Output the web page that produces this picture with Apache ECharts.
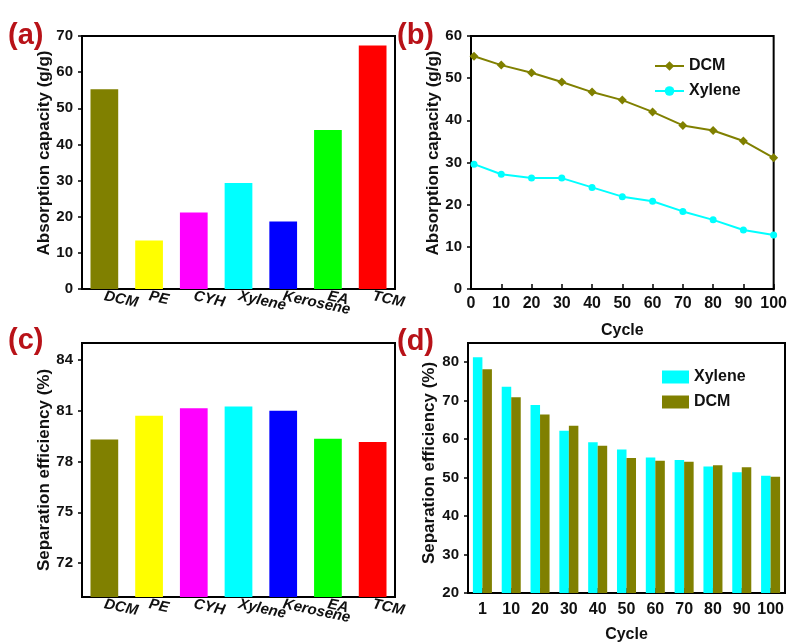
<!DOCTYPE html>
<html>
<head>
<meta charset="utf-8">
<script src="https://cdn.jsdelivr.net/npm/echarts@6/dist/echarts.min.js"></script>
<style>
  html, body { margin: 0; padding: 0; background: #fff; }
  #chart { width: 790px; height: 644px; }
</style>
</head>
<body>
<div id="chart"></div>
<script>
// solvents used in panels (a) and (c)
const solvents = ['DCM', 'PE', 'CYH', 'Xylene', 'Kerosene', 'EA', 'TCM'];
const solventColors = ['#808000', '#FFFF00', '#FF00FF', '#00FFFF', '#0000FF', '#00FF00', '#FF0000'];
const capacity = [55.3, 13.4, 21.2, 29.3, 18.7, 44.0, 67.4];
const efficiency = [79.3, 80.7, 81.15, 81.25, 81.0, 79.35, 79.15];
const efficiencyTicks = [72, 75, 78, 81, 84];

// cycling tests, panels (b) and (d)
const cycles = [1, 10, 20, 30, 40, 50, 60, 70, 80, 90, 100];
const dcmCapacity = [55.2, 53.1, 51.3, 49.1, 46.7, 44.8, 42.0, 38.8, 37.6, 35.1, 31.1];
const xyleneCapacity = [29.6, 27.2, 26.3, 26.3, 24.1, 21.9, 20.8, 18.4, 16.4, 14.0, 12.8];
const xyleneEfficiency = [81.3, 73.6, 68.9, 62.2, 59.2, 57.3, 55.2, 54.6, 52.9, 51.4, 50.5];
const dcmEfficiency = [78.2, 70.9, 66.4, 63.5, 58.3, 55.1, 54.4, 54.1, 53.2, 52.7, 50.2];
const cycleTicks = [20, 30, 40, 50, 60, 70, 80];

const FONT = 'Liberation Sans';
const red = '#B81218';

const chart = echarts.init(document.getElementById('chart'));

function yAxisBase(gi, name, extra) {
    return Object.assign({
        type: 'value',
        gridIndex: gi,
        name: name,
        nameLocation: 'middle',
        nameGap: 28,
        nameTextStyle: {fontFamily: FONT, fontWeight: 'bold', fontSize: 17, color: '#111'},
        axisLine: {show: true, lineStyle: {color: '#000', width: 2}},
        axisTick: {show: true, inside: false, length: 4, lineStyle: {color: '#000', width: 1.5}},
        axisLabel: {fontFamily: FONT, fontWeight: 'bold', fontSize: 15, color: '#111', margin: 9},
        splitLine: {show: false}
    }, extra);
}

function xLabel(extra) {
    return Object.assign({fontFamily: FONT, fontWeight: 'bold', fontSize: 16, color: '#111', interval: 0}, extra);
}

const axisLine = {show: true, onZero: false, lineStyle: {color: '#000', width: 2}};
const insideTick = {show: true, inside: true, length: 5, interval: 0, alignWithLabel: true, lineStyle: {color: '#000', width: 1.5}};
const frame = {show: true, borderColor: '#000', borderWidth: 2, backgroundColor: 'transparent'};

const option = {
    animation: false,
    backgroundColor: '#fff',
    title: [
        {text: '(a)', left: 8, top: 21},
        {text: '(b)', left: 397, top: 21},
        {text: '(c)', left: 8, top: 326},
        {text: '(d)', left: 397, top: 327}
    ].map(t => Object.assign(t, {padding: 0, textStyle: {fontFamily: FONT, fontWeight: 'bold', fontSize: 29, color: red}})),
    legend: [
        {
            data: ['DCM', 'Xylene'],
            orient: 'vertical',
            left: 649, top: 53,
            itemWidth: 29, itemHeight: 12, itemGap: 9,
            textStyle: {fontFamily: FONT, fontWeight: 'bold', fontSize: 16, color: '#111'}
        },
        {
            data: [{name: 'Xylene', icon: 'rect'}, {name: 'DCM', icon: 'rect'}],
            orient: 'vertical',
            left: 657, top: 364,
            itemWidth: 27, itemHeight: 13, itemGap: 9,
            textStyle: {fontFamily: FONT, fontWeight: 'bold', fontSize: 16, color: '#111'}
        }
    ],
    grid: [
        Object.assign({left: 82, top: 36, width: 313, height: 253}, frame),
        Object.assign({left: 471, top: 36, width: 312, height: 253}, frame),
        Object.assign({left: 82, top: 343, width: 313, height: 254}, frame),
        Object.assign({left: 468, top: 343, width: 317, height: 254}, frame)
    ],
    xAxis: [
        {
            type: 'category', gridIndex: 0, data: solvents,
            axisLine: axisLine, axisTick: insideTick,
            axisLabel: xLabel({rotate: -12, margin: 7, fontSize: 15, fontStyle: 'italic'})
        },
        {
            type: 'value', gridIndex: 1, min: 0, max: 100, interval: 10,
            name: 'Cycle', nameLocation: 'middle', nameGap: 34,
            nameTextStyle: {fontFamily: FONT, fontWeight: 'bold', fontSize: 16, color: '#111'},
            axisLine: axisLine, axisTick: insideTick, splitLine: {show: false},
            axisLabel: xLabel({margin: 7})
        },
        {
            type: 'category', gridIndex: 2, data: solvents,
            axisLine: axisLine, axisTick: insideTick,
            axisLabel: xLabel({rotate: -12, margin: 7, fontSize: 15, fontStyle: 'italic'})
        },
        {
            type: 'category', gridIndex: 3, data: cycles,
            name: 'Cycle', nameLocation: 'middle', nameGap: 34,
            nameTextStyle: {fontFamily: FONT, fontWeight: 'bold', fontSize: 16, color: '#111'},
            axisLine: axisLine, axisTick: insideTick,
            axisLabel: xLabel({margin: 9})
        }
    ],
    yAxis: [
        yAxisBase(0, 'Absorption capacity (g/g)', {min: 0, max: 70, interval: 10,
            nameTextStyle: {fontFamily: FONT, fontWeight: 'bold', fontSize: 17, color: '#111', padding: [0, 0, 0, 19]}}),
        yAxisBase(1, 'Absorption capacity (g/g)', {min: 0, max: 60, interval: 10, nameGap: 29,
            nameTextStyle: {fontFamily: FONT, fontWeight: 'bold', fontSize: 17, color: '#111', padding: [0, 0, 0, 19]}}),
        yAxisBase(2, 'Separation efficiency (%)', {min: 70, max: 85, nameGap: 29,
            axisTick: {show: true, inside: false, length: 4, customValues: efficiencyTicks, lineStyle: {color: '#000', width: 1.5}},
            axisLabel: {fontFamily: FONT, fontWeight: 'bold', fontSize: 15, color: '#111', margin: 9, customValues: efficiencyTicks}}),
        yAxisBase(3, 'Separation efficiency (%)', {min: 20, max: 85, nameGap: 30,
            nameTextStyle: {fontFamily: FONT, fontWeight: 'bold', fontSize: 17, color: '#111', padding: [0, 0, 0, 10]},
            axisTick: {show: true, inside: false, length: 4, customValues: cycleTicks, lineStyle: {color: '#000', width: 1.5}},
            axisLabel: {fontFamily: FONT, fontWeight: 'bold', fontSize: 15, color: '#111', margin: 9, customValues: cycleTicks}})
    ],
    series: [
        {
            name: 'DCM', type: 'line', xAxisIndex: 1, yAxisIndex: 1,
            data: cycles.map((c, i) => [c, dcmCapacity[i]]),
            symbol: 'diamond', symbolSize: 9,
            itemStyle: {color: '#808000'},
            lineStyle: {color: '#808000', width: 2}
        },
        {
            name: 'Xylene', type: 'line', xAxisIndex: 1, yAxisIndex: 1,
            data: cycles.map((c, i) => [c, xyleneCapacity[i]]),
            symbol: 'circle', symbolSize: 7,
            itemStyle: {color: '#00FFFF'},
            lineStyle: {color: '#00FFFF', width: 2}
        },
        {
            type: 'bar', xAxisIndex: 0, yAxisIndex: 0, barCategoryGap: '38%',
            data: capacity.map((v, i) => ({value: v, itemStyle: {color: solventColors[i]}}))
        },
        {
            type: 'bar', xAxisIndex: 2, yAxisIndex: 2, barCategoryGap: '38%',
            data: efficiency.map((v, i) => ({value: v, itemStyle: {color: solventColors[i]}}))
        },
        {
            name: 'Xylene', type: 'bar', xAxisIndex: 3, yAxisIndex: 3,
            barGap: '0%', barCategoryGap: '34%',
            itemStyle: {color: '#00FFFF'},
            data: xyleneEfficiency
        },
        {
            name: 'DCM', type: 'bar', xAxisIndex: 3, yAxisIndex: 3,
            barGap: '0%', barCategoryGap: '34%',
            itemStyle: {color: '#808000'},
            data: dcmEfficiency
        }
    ]
};

chart.setOption(option);
</script>
</body>
</html>
